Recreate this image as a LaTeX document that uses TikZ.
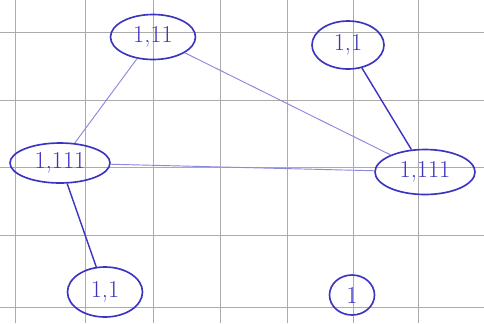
\documentclass[tikz,border=0pt]{standalone}
\usepackage{xcolor}
\usepackage{tikz}
\usetikzlibrary{shapes.geometric}

\definecolor{ink}{HTML}{3A34C0}
\definecolor{paleink}{HTML}{8C88E0}
\definecolor{paper}{HTML}{ABABAB}

\begin{document}
\begin{tikzpicture}[
    x=0.03cm, y=-0.03cm,
    vertex/.style={
        draw=ink,
        ellipse,
        line width=1.4pt,
        inner sep=0pt,
        text=ink,
        font=\huge
    },
    edge/.style={
        draw=ink,
        line width=1.2pt
    },
    faint/.style={
        draw=paleink,
        line width=0.8pt
    },
    gridline/.style={
        draw=paper,
        line width=0.4pt
    }
]

%---------------------------------------------------------------------
% Paper
%---------------------------------------------------------------------

\useasboundingbox (0,0) rectangle (484,323);
\fill[white] (0,0) rectangle (484,323);
\foreach \gx in {15,85,153,220,287,353,418}
    \draw[gridline] (\gx,0) -- (\gx,323);
\foreach \gy in {32,100,167,235,307}
    \draw[gridline] (0,\gy) -- (484,\gy);

%---------------------------------------------------------------------
% Vertices
%---------------------------------------------------------------------

\node[vertex, minimum width=2.55cm, minimum height=1.35cm] (v11) at (153,37) {1,11};
\node[vertex, minimum width=2.16cm, minimum height=1.44cm] (v1top) at (348,45) {1,1};
\node[vertex, minimum width=3.0cm, minimum height=1.2cm] (v111l) at (60,163) {1,111};
\node[vertex, minimum width=3.0cm, minimum height=1.35cm] (v111r) at (425,172) {1,111};
\node[vertex, minimum width=2.25cm, minimum height=1.5cm] (v1bot) at (105,292) {1,1};
\node[vertex, minimum width=1.35cm, minimum height=1.2cm] (vone) at (352,295) {1};

%---------------------------------------------------------------------
% Edges
%---------------------------------------------------------------------

\draw[faint] (v11) -- (v111l);
\draw[faint] (v11) -- (v111r);
\draw[faint] (v111l) -- (v111r);
\draw[edge] (v1top) -- (v111r);
\draw[edge] (v111l) -- (v1bot);

\end{tikzpicture}
\end{document}
